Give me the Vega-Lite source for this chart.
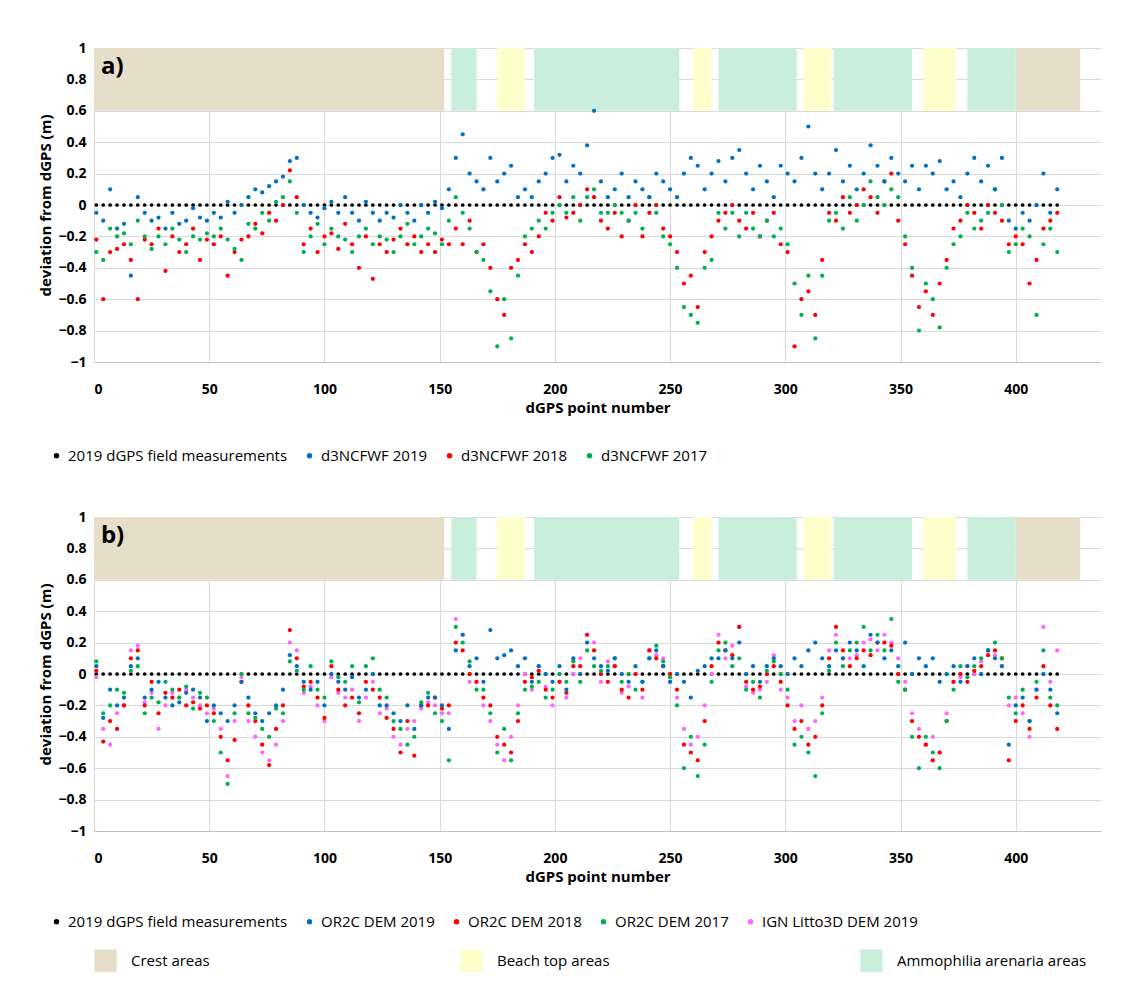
{
"$schema":"https://vega.github.io/schema/vega-lite/v6.json",
"background":"white",
"padding":{"left":38,"top":41,"right":30,"bottom":5},
"config":{"font":"Open Sans","view":{"stroke":null},"axis":{"labelFont":"Open Sans","titleFont":"Open Sans","labelFontSize":14,"labelFontWeight":"bold","labelColor":"black","titleFontSize":15,"titleFontWeight":"bold","titleColor":"black","gridColor":"#d9d9d9","domainColor":"#bfbfbf","tickColor":"#bfbfbf","labelOverlap":false},"legend":{"labelFontSize":15,"labelFont":"Open Sans","labelColor":"black","symbolSize":30,"orient":"bottom","direction":"horizontal","columnPadding":14,"title":null,"labelLimit":0}},
"datasets":{
"areas":[{"x":0,"x2":152,"t":"crest"},{"x":155,"x2":166,"t":"amm"},{"x":175,"x2":187,"t":"beach"},{"x":191,"x2":254,"t":"amm"},{"x":260,"x2":268,"t":"beach"},{"x":271,"x2":305,"t":"amm"},{"x":308,"x2":320,"t":"beach"},{"x":321,"x2":355,"t":"amm"},{"x":360,"x2":374,"t":"beach"},{"x":379,"x2":400,"t":"amm"},{"x":400,"x2":428,"t":"crest"}],
"pts":[
{"n":1,"a":-0.05,"r":-0.22,"g":-0.3,"B":0.05,"R":0.02,"G":0.08,"L":-0.02},
{"n":4,"a":-0.1,"r":-0.6,"g":-0.35,"B":-0.28,"R":-0.43,"G":-0.25,"L":-0.35},
{"n":7,"a":0.1,"r":-0.3,"g":-0.15,"B":-0.1,"R":-0.3,"G":-0.2,"L":-0.45},
{"n":10,"a":-0.15,"r":-0.28,"g":-0.2,"B":-0.2,"R":-0.35,"G":-0.1,"L":-0.25},
{"n":13,"a":-0.12,"r":-0.25,"g":-0.18,"B":-0.15,"R":-0.2,"G":-0.12,"L":-0.2},
{"n":16,"a":-0.45,"r":-0.35,"g":-0.25,"B":0.05,"R":0.1,"G":0.02,"L":0.15},
{"n":19,"a":0.05,"r":-0.6,"g":-0.1,"B":0.1,"R":0.15,"G":0.05,"L":0.18},
{"n":22,"a":-0.05,"r":-0.22,"g":-0.2,"B":-0.15,"R":-0.2,"G":-0.25,"L":-0.18},
{"n":25,"a":-0.1,"r":-0.25,"g":-0.28,"B":-0.1,"R":-0.05,"G":-0.15,"L":-0.12},
{"n":28,"a":-0.08,"r":-0.15,"g":-0.2,"B":-0.05,"R":-0.25,"G":-0.18,"L":-0.35},
{"n":31,"a":-0.15,"r":-0.42,"g":-0.25,"B":-0.15,"R":-0.12,"G":-0.05,"L":-0.2},
{"n":34,"a":-0.05,"r":-0.2,"g":-0.15,"B":-0.2,"R":-0.15,"G":-0.1,"L":-0.12},
{"n":37,"a":-0.12,"r":-0.3,"g":-0.22,"B":-0.18,"R":-0.1,"G":-0.15,"L":-0.15},
{"n":40,"a":-0.1,"r":-0.25,"g":-0.3,"B":-0.12,"R":-0.2,"G":-0.08,"L":-0.1},
{"n":43,"a":-0.02,"r":-0.15,"g":-0.2,"B":-0.1,"R":-0.18,"G":-0.22,"L":-0.15},
{"n":46,"a":-0.08,"r":-0.35,"g":-0.22,"B":-0.15,"R":-0.22,"G":-0.12,"L":-0.2},
{"n":49,"a":-0.1,"r":-0.22,"g":-0.18,"B":-0.3,"R":-0.2,"G":-0.15,"L":-0.25},
{"n":52,"a":-0.05,"r":-0.25,"g":-0.2,"B":-0.2,"R":-0.25,"G":-0.3,"L":-0.22},
{"n":55,"a":-0.08,"r":-0.2,"g":-0.15,"B":-0.25,"R":-0.4,"G":-0.5,"L":-0.35},
{"n":58,"a":0.02,"r":-0.45,"g":-0.22,"B":-0.3,"R":-0.55,"G":-0.7,"L":-0.65},
{"n":61,"a":-0.05,"r":-0.3,"g":-0.28,"B":-0.2,"R":-0.42,"G":-0.25,"L":-0.3},
{"n":64,"a":0.0,"r":-0.22,"g":-0.35,"B":-0.05,"R":-0.05,"G":0.0,"L":-0.02},
{"n":67,"a":0.05,"r":-0.2,"g":-0.12,"B":-0.15,"R":-0.2,"G":-0.25,"L":-0.3},
{"n":70,"a":0.1,"r":-0.12,"g":-0.15,"B":-0.25,"R":-0.3,"G":-0.28,"L":-0.4},
{"n":73,"a":0.08,"r":-0.18,"g":-0.05,"B":-0.3,"R":-0.45,"G":-0.35,"L":-0.5},
{"n":76,"a":0.12,"r":-0.05,"g":-0.1,"B":-0.25,"R":-0.58,"G":-0.4,"L":-0.55},
{"n":79,"a":0.15,"r":-0.1,"g":0.02,"B":-0.2,"R":-0.35,"G":-0.22,"L":-0.45},
{"n":82,"a":0.18,"r":0.0,"g":0.05,"B":-0.1,"R":-0.2,"G":-0.25,"L":-0.3},
{"n":85,"a":0.28,"r":0.22,"g":0.15,"B":0.12,"R":0.28,"G":0.08,"L":0.2},
{"n":88,"a":0.3,"r":0.05,"g":-0.05,"B":0.05,"R":0.1,"G":0.02,"L":0.15},
{"n":91,"a":0.0,"r":-0.25,"g":-0.3,"B":-0.05,"R":-0.08,"G":-0.1,"L":-0.12},
{"n":94,"a":-0.05,"r":-0.15,"g":-0.2,"B":-0.1,"R":-0.05,"G":0.05,"L":-0.08},
{"n":97,"a":-0.08,"r":-0.3,"g":-0.12,"B":-0.05,"R":-0.15,"G":-0.1,"L":-0.2},
{"n":100,"a":-0.02,"r":-0.2,"g":-0.25,"B":-0.2,"R":-0.28,"G":-0.15,"L":-0.3},
{"n":103,"a":0.02,"r":-0.18,"g":-0.15,"B":0.0,"R":0.05,"G":0.08,"L":-0.02},
{"n":106,"a":-0.05,"r":-0.28,"g":-0.2,"B":-0.05,"R":-0.1,"G":-0.02,"L":-0.12},
{"n":109,"a":0.05,"r":-0.12,"g":-0.22,"B":-0.1,"R":-0.2,"G":-0.05,"L":-0.15},
{"n":112,"a":-0.05,"r":-0.25,"g":-0.3,"B":-0.02,"R":-0.15,"G":0.05,"L":-0.1},
{"n":115,"a":-0.1,"r":-0.4,"g":-0.2,"B":-0.15,"R":-0.25,"G":-0.18,"L":-0.3},
{"n":118,"a":0.02,"r":-0.2,"g":-0.15,"B":-0.1,"R":-0.05,"G":0.05,"L":-0.15},
{"n":121,"a":-0.05,"r":-0.47,"g":-0.25,"B":0.0,"R":-0.1,"G":0.1,"L":-0.05},
{"n":124,"a":-0.1,"r":-0.25,"g":-0.2,"B":-0.2,"R":-0.15,"G":-0.1,"L":-0.25},
{"n":127,"a":-0.05,"r":-0.3,"g":-0.22,"B":-0.2,"R":-0.28,"G":-0.15,"L":-0.22},
{"n":130,"a":-0.08,"r":-0.22,"g":-0.3,"B":-0.25,"R":-0.35,"G":-0.3,"L":-0.4},
{"n":133,"a":0.0,"r":-0.15,"g":-0.2,"B":-0.3,"R":-0.5,"G":-0.35,"L":-0.45},
{"n":136,"a":-0.05,"r":-0.25,"g":-0.12,"B":-0.2,"R":-0.3,"G":-0.45,"L":-0.35},
{"n":139,"a":-0.1,"r":-0.2,"g":-0.25,"B":-0.35,"R":-0.52,"G":-0.4,"L":-0.3},
{"n":142,"a":0.0,"r":-0.3,"g":-0.2,"B":-0.2,"R":-0.2,"G":-0.18,"L":-0.22},
{"n":145,"a":-0.05,"r":-0.25,"g":-0.15,"B":-0.15,"R":-0.2,"G":-0.12,"L":-0.18},
{"n":148,"a":0.02,"r":-0.3,"g":-0.18,"B":-0.15,"R":-0.15,"G":-0.25,"L":-0.2},
{"n":151,"a":-0.02,"r":-0.22,"g":-0.25,"B":-0.2,"R":-0.22,"G":-0.3,"L":-0.25},
{"n":154,"a":0.1,"r":-0.25,"g":-0.1,"B":-0.35,"R":-0.2,"G":-0.55,"L":-0.25},
{"n":157,"a":0.3,"r":-0.15,"g":0.05,"B":0.15,"R":0.2,"G":0.3,"L":0.35},
{"n":160,"a":0.45,"r":-0.25,"g":-0.05,"B":0.25,"R":0.15,"G":0.2,"L":0.25},
{"n":163,"a":0.2,"r":-0.1,"g":-0.15,"B":0.05,"R":0.0,"G":0.08,"L":-0.05},
{"n":166,"a":0.15,"r":-0.3,"g":-0.3,"B":0.1,"R":-0.05,"G":-0.1,"L":-0.05},
{"n":169,"a":0.1,"r":-0.25,"g":-0.35,"B":-0.05,"R":-0.15,"G":-0.1,"L":-0.2},
{"n":172,"a":0.3,"r":-0.4,"g":-0.55,"B":0.28,"R":-0.2,"G":-0.25,"L":-0.3},
{"n":175,"a":0.15,"r":-0.6,"g":-0.9,"B":0.1,"R":-0.4,"G":-0.5,"L":-0.45},
{"n":178,"a":0.2,"r":-0.7,"g":-0.6,"B":0.12,"R":-0.45,"G":-0.35,"L":-0.55},
{"n":181,"a":0.25,"r":-0.4,"g":-0.85,"B":0.15,"R":-0.5,"G":-0.55,"L":-0.4},
{"n":184,"a":0.05,"r":-0.35,"g":-0.45,"B":0.05,"R":-0.3,"G":-0.25,"L":-0.2},
{"n":187,"a":0.1,"r":-0.25,"g":-0.2,"B":0.1,"R":-0.05,"G":-0.1,"L":0.0},
{"n":190,"a":0.05,"r":-0.3,"g":-0.15,"B":-0.05,"R":-0.02,"G":-0.08,"L":-0.1},
{"n":193,"a":0.15,"r":-0.2,"g":-0.1,"B":0.05,"R":0.02,"G":-0.05,"L":0.05},
{"n":196,"a":0.2,"r":-0.05,"g":-0.15,"B":0.0,"R":-0.1,"G":-0.15,"L":-0.08},
{"n":199,"a":0.3,"r":-0.1,"g":-0.05,"B":-0.05,"R":-0.15,"G":-0.1,"L":-0.2},
{"n":202,"a":0.32,"r":0.05,"g":0.0,"B":0.05,"R":-0.05,"G":0.0,"L":-0.05},
{"n":205,"a":0.15,"r":-0.08,"g":-0.05,"B":-0.1,"R":-0.12,"G":-0.05,"L":-0.15},
{"n":208,"a":0.25,"r":-0.05,"g":0.05,"B":0.1,"R":0.05,"G":0.08,"L":0.0},
{"n":211,"a":0.2,"r":0.0,"g":-0.1,"B":0.0,"R":0.05,"G":-0.05,"L":0.1},
{"n":214,"a":0.38,"r":0.1,"g":0.05,"B":0.2,"R":0.25,"G":0.15,"L":0.25},
{"n":217,"a":0.6,"r":0.05,"g":0.1,"B":0.1,"R":0.15,"G":0.05,"L":0.2},
{"n":220,"a":0.15,"r":-0.1,"g":-0.05,"B":0.05,"R":0.0,"G":0.02,"L":-0.05},
{"n":223,"a":0.05,"r":-0.15,"g":-0.05,"B":0.02,"R":-0.05,"G":0.05,"L":0.08},
{"n":226,"a":0.1,"r":-0.05,"g":0.0,"B":0.1,"R":0.05,"G":0.1,"L":0.05},
{"n":229,"a":0.2,"r":-0.2,"g":-0.05,"B":0.0,"R":-0.1,"G":-0.05,"L":-0.12},
{"n":232,"a":0.05,"r":-0.1,"g":-0.1,"B":-0.05,"R":-0.15,"G":0.0,"L":-0.08},
{"n":235,"a":0.15,"r":0.0,"g":-0.05,"B":0.05,"R":0.0,"G":-0.1,"L":0.0},
{"n":238,"a":0.1,"r":-0.2,"g":-0.15,"B":-0.05,"R":-0.1,"G":-0.05,"L":-0.15},
{"n":241,"a":0.05,"r":-0.05,"g":0.05,"B":0.1,"R":0.15,"G":0.1,"L":0.15},
{"n":244,"a":0.2,"r":0.0,"g":-0.05,"B":0.15,"R":0.1,"G":0.18,"L":0.12},
{"n":247,"a":0.15,"r":-0.15,"g":-0.2,"B":0.05,"R":0.05,"G":0.08,"L":0.1},
{"n":250,"a":0.1,"r":-0.2,"g":-0.25,"B":-0.05,"R":0.0,"G":-0.02,"L":-0.05},
{"n":253,"a":0.05,"r":-0.3,"g":-0.4,"B":0.0,"R":-0.1,"G":-0.2,"L":-0.15},
{"n":256,"a":0.2,"r":-0.5,"g":-0.65,"B":-0.05,"R":-0.45,"G":-0.6,"L":-0.35},
{"n":259,"a":0.3,"r":-0.45,"g":-0.7,"B":-0.15,"R":-0.5,"G":-0.4,"L":-0.45},
{"n":262,"a":0.25,"r":-0.65,"g":-0.75,"B":0.02,"R":-0.55,"G":-0.65,"L":-0.4},
{"n":265,"a":0.1,"r":-0.3,"g":-0.4,"B":0.05,"R":-0.3,"G":-0.45,"L":-0.2},
{"n":268,"a":0.2,"r":-0.2,"g":-0.35,"B":0.1,"R":0.05,"G":-0.05,"L":0.0},
{"n":271,"a":0.28,"r":-0.1,"g":-0.05,"B":0.1,"R":0.2,"G":0.15,"L":0.25},
{"n":274,"a":0.15,"r":-0.05,"g":-0.15,"B":0.15,"R":0.15,"G":0.2,"L":0.1},
{"n":277,"a":0.3,"r":0.0,"g":-0.05,"B":0.1,"R":0.12,"G":0.05,"L":0.18},
{"n":280,"a":0.35,"r":-0.1,"g":-0.2,"B":0.2,"R":0.3,"G":0.1,"L":0.3},
{"n":283,"a":0.2,"r":-0.15,"g":-0.05,"B":0.0,"R":-0.05,"G":-0.1,"L":-0.08},
{"n":286,"a":0.1,"r":-0.05,"g":-0.15,"B":0.05,"R":-0.1,"G":-0.05,"L":-0.12},
{"n":289,"a":0.25,"r":-0.2,"g":-0.2,"B":-0.05,"R":-0.08,"G":-0.15,"L":-0.1},
{"n":292,"a":0.15,"r":-0.1,"g":-0.1,"B":0.05,"R":0.0,"G":0.02,"L":-0.05},
{"n":295,"a":0.05,"r":-0.05,"g":-0.2,"B":0.1,"R":0.05,"G":0.08,"L":0.12},
{"n":298,"a":0.25,"r":-0.25,"g":-0.15,"B":0.05,"R":-0.05,"G":0.0,"L":-0.1},
{"n":301,"a":0.2,"r":-0.3,"g":-0.25,"B":0.0,"R":-0.2,"G":-0.1,"L":-0.15},
{"n":304,"a":0.15,"r":-0.9,"g":-0.5,"B":0.1,"R":-0.35,"G":-0.45,"L":-0.3},
{"n":307,"a":0.3,"r":-0.6,"g":-0.7,"B":0.05,"R":-0.3,"G":-0.4,"L":-0.2},
{"n":310,"a":0.5,"r":-0.55,"g":-0.45,"B":0.15,"R":-0.45,"G":-0.5,"L":-0.35},
{"n":313,"a":0.2,"r":-0.7,"g":-0.85,"B":0.2,"R":-0.4,"G":-0.65,"L":-0.3},
{"n":316,"a":0.1,"r":-0.35,"g":-0.45,"B":0.1,"R":-0.2,"G":-0.25,"L":-0.15},
{"n":319,"a":0.2,"r":-0.05,"g":-0.1,"B":0.05,"R":0.1,"G":0.02,"L":0.15},
{"n":322,"a":0.35,"r":-0.1,"g":-0.05,"B":0.15,"R":0.3,"G":0.2,"L":0.25},
{"n":325,"a":0.15,"r":0.05,"g":-0.15,"B":0.1,"R":0.15,"G":0.05,"L":0.1},
{"n":328,"a":0.25,"r":-0.05,"g":0.05,"B":0.2,"R":0.05,"G":0.15,"L":0.1},
{"n":331,"a":0.1,"r":0.0,"g":-0.1,"B":0.15,"R":0.1,"G":0.2,"L":0.12},
{"n":334,"a":0.2,"r":0.1,"g":0.0,"B":0.05,"R":0.15,"G":0.3,"L":0.2},
{"n":337,"a":0.38,"r":0.05,"g":0.15,"B":0.25,"R":0.12,"G":0.15,"L":0.22},
{"n":340,"a":0.25,"r":-0.05,"g":0.05,"B":0.2,"R":0.2,"G":0.25,"L":0.15},
{"n":343,"a":0.15,"r":0.15,"g":0.0,"B":0.1,"R":0.2,"G":0.15,"L":0.25},
{"n":346,"a":0.3,"r":0.2,"g":0.1,"B":0.15,"R":0.18,"G":0.35,"L":0.2},
{"n":349,"a":0.2,"r":-0.1,"g":0.05,"B":0.05,"R":0.0,"G":-0.05,"L":0.1},
{"n":352,"a":0.15,"r":-0.25,"g":-0.2,"B":0.2,"R":-0.1,"G":-0.1,"L":-0.05},
{"n":355,"a":0.25,"r":-0.45,"g":-0.4,"B":0.0,"R":-0.3,"G":-0.4,"L":-0.25},
{"n":358,"a":0.1,"r":-0.65,"g":-0.8,"B":0.1,"R":-0.4,"G":-0.6,"L":-0.35},
{"n":361,"a":0.25,"r":-0.55,"g":-0.5,"B":0.05,"R":-0.45,"G":-0.4,"L":-0.45},
{"n":364,"a":0.2,"r":-0.7,"g":-0.6,"B":0.1,"R":-0.55,"G":-0.5,"L":-0.4},
{"n":367,"a":0.28,"r":-0.5,"g":-0.78,"B":-0.05,"R":-0.5,"G":-0.6,"L":-0.5},
{"n":370,"a":0.1,"r":-0.35,"g":-0.4,"B":0.0,"R":-0.3,"G":-0.3,"L":-0.25},
{"n":373,"a":0.15,"r":-0.15,"g":-0.25,"B":0.05,"R":-0.05,"G":-0.1,"L":-0.05},
{"n":376,"a":0.05,"r":-0.1,"g":-0.2,"B":-0.05,"R":0.0,"G":0.05,"L":-0.02},
{"n":379,"a":0.2,"r":0.0,"g":-0.05,"B":0.05,"R":-0.05,"G":-0.02,"L":0.05},
{"n":382,"a":0.3,"r":-0.05,"g":-0.15,"B":0.1,"R":0.02,"G":0.05,"L":0.0},
{"n":385,"a":0.15,"r":-0.15,"g":-0.1,"B":0.0,"R":0.05,"G":0.1,"L":0.08},
{"n":388,"a":0.25,"r":0.0,"g":-0.05,"B":0.15,"R":0.12,"G":0.15,"L":0.15},
{"n":391,"a":0.1,"r":-0.05,"g":0.1,"B":0.1,"R":0.15,"G":0.2,"L":0.12},
{"n":394,"a":0.3,"r":-0.1,"g":0.0,"B":0.05,"R":0.1,"G":0.1,"L":0.05},
{"n":397,"a":-0.1,"r":-0.25,"g":-0.3,"B":-0.45,"R":-0.55,"G":-0.15,"L":-0.2},
{"n":400,"a":-0.15,"r":-0.2,"g":-0.25,"B":-0.2,"R":-0.3,"G":-0.25,"L":-0.15},
{"n":403,"a":-0.05,"r":-0.25,"g":-0.15,"B":-0.15,"R":-0.2,"G":-0.1,"L":-0.25},
{"n":406,"a":-0.1,"r":-0.5,"g":-0.2,"B":-0.3,"R":-0.35,"G":-0.3,"L":-0.4},
{"n":409,"a":0.0,"r":-0.35,"g":-0.7,"B":-0.1,"R":-0.15,"G":-0.05,"L":-0.1},
{"n":412,"a":0.2,"r":-0.15,"g":-0.25,"B":0.0,"R":0.05,"G":0.15,"L":0.3},
{"n":415,"a":-0.05,"r":-0.1,"g":-0.15,"B":-0.1,"R":-0.2,"G":-0.15,"L":-0.05},
{"n":418,"a":0.1,"r":-0.05,"g":-0.3,"B":-0.25,"R":-0.35,"G":-0.2,"L":0.15}
]},
"vconcat":[
{"width":1007,"height":314,
"layer":[
{"data":{"name":"areas"},"mark":{"type":"rect"},"encoding":{"x":{"field":"x","type":"quantitative","scale":{"domain":[0,437],"nice":false},"axis":{"values":[0,50,100,150,200,250,300,350,400],"tickCount":9,"title":"dGPS point number","titlePadding":4,"labelPadding":20,"grid":true,"ticks":false}},"x2":{"field":"x2"},"y":{"datum":0.6,"type":"quantitative","scale":{"domain":[-1,1],"nice":false},"axis":{"values":[-1,-0.8,-0.6,-0.4,-0.2,0,0.2,0.4,0.6,0.8,1],"tickCount":11,"labelOverlap":false,"labelPadding":8,"title":"deviation from dGPS (m)","grid":true,"domain":false,"ticks":false,"format":"~g"}},"y2":{"datum":1},"fill":{"field":"t","type":"nominal","scale":{"domain":["crest","beach","amm"],"range":["#e6dec9","#ffffcc","#c9eedb"]},"legend":null}}},
{"data":{"name":"pts"},"mark":{"type":"point","filled":true,"size":14,"opacity":1},"encoding":{"x":{"field":"n","type":"quantitative"},"y":{"datum":0,"type":"quantitative"},"color":{"datum":"k","type":"nominal"}}},
{"data":{"name":"pts"},"transform":[{"fold":["r","g","a"],"as":["s","v"]}],"mark":{"type":"point","filled":true,"size":18,"opacity":1},"encoding":{"x":{"field":"n","type":"quantitative"},"y":{"field":"v","type":"quantitative"},"color":{"field":"s","type":"nominal","scale":{"domain":["k","a","r","g"],"range":["black","#0070c0","#ff0000","#00b050"]},"legend":{"labelExpr":"{'k':'2019 dGPS field measurements','a':'d3NCFWF 2019','r':'d3NCFWF 2018','g':'d3NCFWF 2017'}[datum.label]","symbolType":"circle","orient":"none","legendX":-45,"legendY":400}}}},
{"data":{"values":[{}]},"mark":{"type":"text","fontSize":24,"fontWeight":"bold","align":"left","font":"Open Sans"},"encoding":{"x":{"datum":3,"type":"quantitative"},"y":{"datum":0.88,"type":"quantitative"},"text":{"value":"a)"}}}
]},
{"width":1007,"height":314,
"layer":[
{"data":{"name":"areas"},"mark":{"type":"rect"},"encoding":{"x":{"field":"x","type":"quantitative","scale":{"domain":[0,437],"nice":false},"axis":{"values":[0,50,100,150,200,250,300,350,400],"tickCount":9,"title":"dGPS point number","titlePadding":4,"labelPadding":20,"grid":true,"ticks":false}},"x2":{"field":"x2"},"y":{"datum":0.6,"type":"quantitative","scale":{"domain":[-1,1],"nice":false},"axis":{"values":[-1,-0.8,-0.6,-0.4,-0.2,0,0.2,0.4,0.6,0.8,1],"tickCount":11,"labelOverlap":false,"labelPadding":8,"title":"deviation from dGPS (m)","grid":true,"domain":false,"ticks":false,"format":"~g"}},"y2":{"datum":1},"fill":{"field":"t","type":"nominal","scale":{"domain":["crest","beach","amm"],"range":["#e6dec9","#ffffcc","#c9eedb"]},"legend":{"labelExpr":"{'crest':'Crest areas','beach':'Beach top areas','amm':'Ammophilia arenaria areas'}[datum.label]","symbolType":"square","symbolSize":500,"symbolStrokeWidth":0,"columnPadding":250,"labelOffset":14,"orient":"none","legendX":0,"legendY":432}}}},
{"data":{"name":"pts"},"mark":{"type":"point","filled":true,"size":14,"opacity":1},"encoding":{"x":{"field":"n","type":"quantitative"},"y":{"datum":0,"type":"quantitative"},"color":{"datum":"k","type":"nominal"}}},
{"data":{"name":"pts"},"transform":[{"fold":["L","R","G","B"],"as":["s","v"]}],"mark":{"type":"point","filled":true,"size":18,"opacity":1},"encoding":{"x":{"field":"n","type":"quantitative"},"y":{"field":"v","type":"quantitative"},"color":{"field":"s","type":"nominal","scale":{"domain":["k","B","R","G","L"],"range":["black","#0070c0","#ff0000","#00b050","#ff66ff"]},"legend":{"labelExpr":"{'k':'2019 dGPS field measurements','B':'OR2C DEM 2019','R':'OR2C DEM 2018','G':'OR2C DEM 2017','L':'IGN Litto3D DEM 2019'}[datum.label]","symbolType":"circle","orient":"none","legendX":-45,"legendY":397}}}},
{"data":{"values":[{}]},"mark":{"type":"text","fontSize":24,"fontWeight":"bold","align":"left","font":"Open Sans"},"encoding":{"x":{"datum":3,"type":"quantitative"},"y":{"datum":0.88,"type":"quantitative"},"text":{"value":"b)"}}}
]}
],
"resolve":{"scale":{"color":"independent","fill":"independent"},"legend":{"color":"independent"}},
"spacing":46
}
